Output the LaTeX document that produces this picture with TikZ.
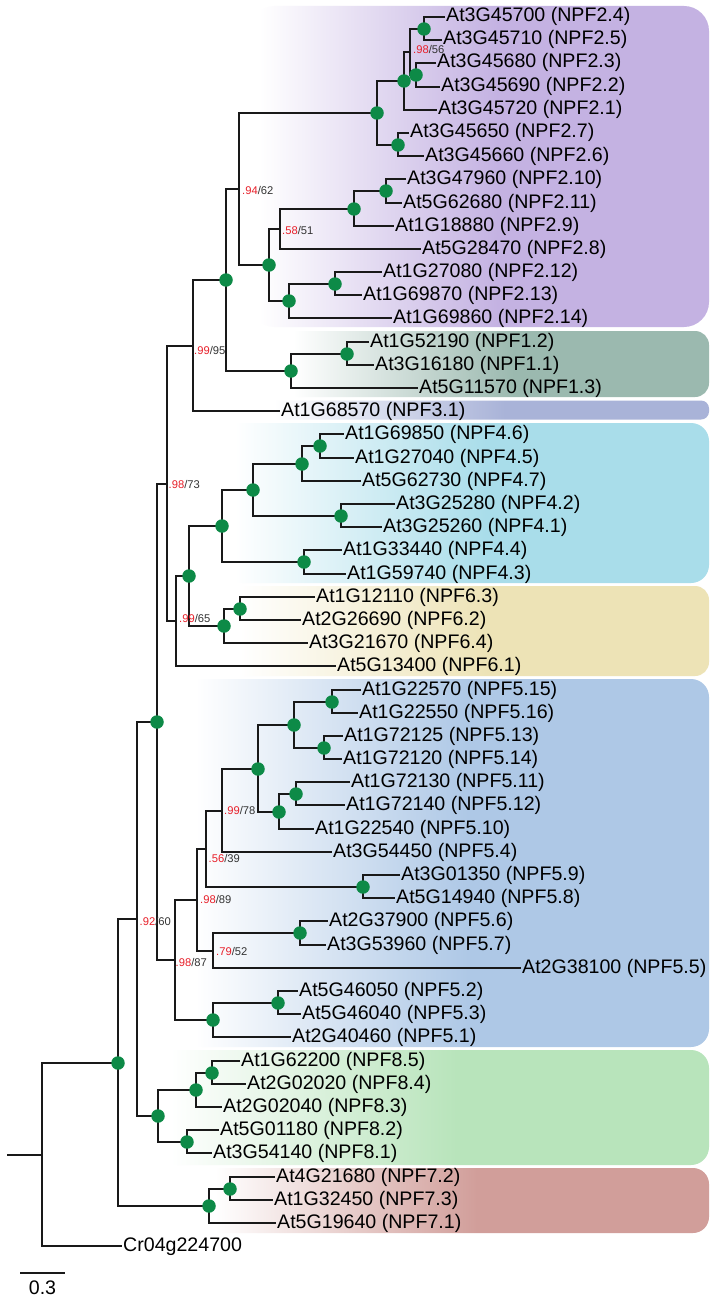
\documentclass[tikz,border=0pt]{standalone}
\usepackage{fontspec}
\setmainfont{Liberation Sans}
\definecolor{cTwo}{HTML}{C4B2E2}
\definecolor{cOne}{HTML}{9BB9AF}
\definecolor{cThree}{HTML}{A9B3D8}
\definecolor{cFour}{HTML}{A9DDEA}
\definecolor{cSix}{HTML}{EDE3B6}
\definecolor{cFive}{HTML}{AEC8E6}
\definecolor{cEight}{HTML}{B8E4BB}
\definecolor{cSeven}{HTML}{D19E9A}
\definecolor{dotgreen}{HTML}{0D8A47}
\definecolor{supred}{HTML}{E8202A}
\definecolor{supgray}{HTML}{333333}
\pgfdeclarehorizontalshading{shTwo}{100bp}{color(0bp)=(white); color(26bp)=(white); color(52bp)=(cTwo); color(100bp)=(cTwo)}
\pgfdeclarehorizontalshading{shOne}{100bp}{color(0bp)=(white); color(26bp)=(white); color(52bp)=(cOne); color(100bp)=(cOne)}
\pgfdeclarehorizontalshading{shThree}{100bp}{color(0bp)=(white); color(26bp)=(white); color(52bp)=(cThree); color(100bp)=(cThree)}
\pgfdeclarehorizontalshading{shFour}{100bp}{color(0bp)=(white); color(26bp)=(white); color(52bp)=(cFour); color(100bp)=(cFour)}
\pgfdeclarehorizontalshading{shSix}{100bp}{color(0bp)=(white); color(26bp)=(white); color(52bp)=(cSix); color(100bp)=(cSix)}
\pgfdeclarehorizontalshading{shFive}{100bp}{color(0bp)=(white); color(26bp)=(white); color(52bp)=(cFive); color(100bp)=(cFive)}
\pgfdeclarehorizontalshading{shEight}{100bp}{color(0bp)=(white); color(26bp)=(white); color(52bp)=(cEight); color(100bp)=(cEight)}
\pgfdeclarehorizontalshading{shSeven}{100bp}{color(0bp)=(white); color(26bp)=(white); color(52bp)=(cSeven); color(100bp)=(cSeven)}
\begin{document}
\begin{tikzpicture}[x=1pt,y=-1pt,
  br/.style={draw=black!90, line width=2pt},
  dotn/.style={circle, fill=dotgreen, inner sep=0pt, minimum size=13.5pt},
  leaf/.style={anchor=west, inner xsep=1pt, inner ysep=0pt, text height=14pt, text depth=4pt, font=\fontsize{19.6}{20}\selectfont},
  sup/.style={anchor=west, inner sep=0pt, text=supgray, font=\fontsize{11.2}{12}\selectfont},
  clade/.style={shading=#1}]
\useasboundingbox (0,0) rectangle (711,1303);
\fill[white] (0,0) rectangle (711,1303);
% clade backgrounds
\shade[clade=shTwo, rounded corners=25pt] (250,6) rectangle (709,327);
\shade[clade=shOne, rounded corners=14pt] (285,331) rectangle (709,397);
\shade[clade=shThree, rounded corners=8pt] (265,400.5) rectangle (709,419.5);
\shade[clade=shFour, rounded corners=18pt] (225,423) rectangle (709,583);
\shade[clade=shSix, rounded corners=14pt] (230,586) rectangle (709,676);
\shade[clade=shFive, rounded corners=18pt] (185,679) rectangle (709,1047);
\shade[clade=shEight, rounded corners=18pt] (160,1050) rectangle (709,1165);
\shade[clade=shSeven, rounded corners=16pt] (205,1168) rectangle (709,1233);
% leaves
\foreach \i/\x/\t in {
 1/446/At3G45700 (NPF2.4), 2/443/At3G45710 (NPF2.5), 3/437/At3G45680 (NPF2.3),
 4/441/At3G45690 (NPF2.2), 5/438/At3G45720 (NPF2.1), 6/410/At3G45650 (NPF2.7),
 7/425/At3G45660 (NPF2.6), 8/407/At3G47960 (NPF2.10), 9/403/At5G62680 (NPF2.11),
 10/395/At1G18880 (NPF2.9), 11/422/At5G28470 (NPF2.8), 12/383/At1G27080 (NPF2.12),
 13/363/At1G69870 (NPF2.13), 14/393/At1G69860 (NPF2.14), 15/370/At1G52190 (NPF1.2),
 16/375/At3G16180 (NPF1.1), 17/419/At5G11570 (NPF1.3), 18/281/At1G68570 (NPF3.1),
 19/345/At1G69850 (NPF4.6), 20/355/At1G27040 (NPF4.5), 21/362/At5G62730 (NPF4.7),
 22/396/At3G25280 (NPF4.2), 23/383/At3G25260 (NPF4.1), 24/343/At1G33440 (NPF4.4),
 25/347/At1G59740 (NPF4.3), 26/316/At1G12110 (NPF6.3), 27/302/At2G26690 (NPF6.2),
 28/309/At3G21670 (NPF6.4), 29/337/At5G13400 (NPF6.1), 30/362/At1G22570 (NPF5.15),
 31/359/At1G22550 (NPF5.16), 32/344/At1G72125 (NPF5.13), 33/343/At1G72120 (NPF5.14),
 34/351/At1G72130 (NPF5.11), 35/346/At1G72140 (NPF5.12), 36/315/At1G22540 (NPF5.10),
 37/333/At3G54450 (NPF5.4), 38/401/At3G01350 (NPF5.9), 39/396/At5G14940 (NPF5.8),
 40/329/At2G37900 (NPF5.6), 41/327/At3G53960 (NPF5.7), 42/522/At2G38100 (NPF5.5),
 43/299/At5G46050 (NPF5.2), 44/302/At5G46040 (NPF5.3), 45/292/At2G40460 (NPF5.1),
 46/241/At1G62200 (NPF8.5), 47/247/At2G02020 (NPF8.4), 48/223/At2G02040 (NPF8.3),
 49/220/At5G01180 (NPF8.2), 50/213/At3G54140 (NPF8.1), 51/276/At4G21680 (NPF7.2),
 52/274/At1G32450 (NPF7.3), 53/277/At5G19640 (NPF7.1), 54/123/Cr04g224700}{
  \coordinate (l\i) at ({\x-1},{round(17+(\i-1)*23.19)});
  \node[leaf] (t\i) at (l\i) {\t};
}
% internal nodes
\coordinate (n2a) at (424,29);
\coordinate (n2b) at (416,75);
\coordinate (n2c) at (410,52);
\coordinate (n2d) at (404,81);
\coordinate (n2e) at (398,145);
\coordinate (n2f) at (377,113);
\coordinate (n2g) at (386,191);
\coordinate (n2h) at (354,209);
\coordinate (n2i) at (280,229);
\coordinate (n2j) at (335,284);
\coordinate (n2k) at (289,301);
\coordinate (n2l) at (269,265);
\coordinate (n2) at (239,189);
\coordinate (n1a) at (347,354);
\coordinate (n1) at (291,371);
\coordinate (nG) at (226,280);
\coordinate (nF) at (193,346);
\coordinate (n4a) at (320,446);
\coordinate (n4b) at (302,464);
\coordinate (n4c) at (341,516);
\coordinate (n4d) at (253,490);
\coordinate (n4e) at (304,562);
\coordinate (n4) at (222,526);
\coordinate (n6a) at (240,609);
\coordinate (n6) at (224,626);
\coordinate (n46) at (189,576);
\coordinate (nH) at (176,621);
\coordinate (nE) at (167,484);
\coordinate (n5a) at (332,702);
\coordinate (n5b) at (324,748);
\coordinate (n5c) at (294,725);
\coordinate (n5d) at (296,794);
\coordinate (n5e) at (279,812);
\coordinate (n5f) at (258,769);
\coordinate (n5g) at (222,811);
\coordinate (n5h) at (363,887);
\coordinate (n5i) at (206,849);
\coordinate (n5j) at (300,933);
\coordinate (n5k) at (213,951);
\coordinate (n5l) at (197,900);
\coordinate (n5m) at (278,1003);
\coordinate (n5n) at (213,1020);
\coordinate (n5) at (175,960);
\coordinate (nD) at (157,722);
\coordinate (n8a) at (212,1073);
\coordinate (n8b) at (196,1090);
\coordinate (n8c) at (187,1142);
\coordinate (n8) at (158,1116);
\coordinate (nC) at (137,919);
\coordinate (n7a) at (230,1189);
\coordinate (n7) at (209,1206);
\coordinate (nB) at (118,1063);
\coordinate (nR) at (42,1155);
\coordinate (stub) at (7,1155);
% branches
\foreach \p/\a/\b in {n2a/l1/l2, n2b/l3/l4, n2c/n2a/n2b, n2d/n2c/l5, n2e/l6/l7,
  n2f/n2d/n2e, n2g/l8/l9, n2h/n2g/l10, n2i/n2h/l11, n2j/l12/l13, n2k/n2j/l14,
  n2l/n2i/n2k, n2/n2f/n2l, n1a/l15/l16, n1/n1a/l17, nG/n2/n1, nF/nG/l18,
  n4a/l19/l20, n4b/n4a/l21, n4c/l22/l23, n4d/n4b/n4c, n4e/l24/l25, n4/n4d/n4e,
  n6a/l26/l27, n6/n6a/l28, n46/n4/n6, nH/n46/l29, nE/nF/nH,
  n5a/l30/l31, n5b/l32/l33, n5c/n5a/n5b, n5d/l34/l35, n5e/n5d/l36, n5f/n5c/n5e,
  n5g/n5f/l37, n5h/l38/l39, n5i/n5g/n5h, n5j/l40/l41, n5k/n5j/l42, n5l/n5i/n5k,
  n5m/l43/l44, n5n/n5m/l45, n5/n5l/n5n, nD/nE/n5,
  n8a/l46/l47, n8b/n8a/l48, n8c/l49/l50, n8/n8b/n8c, nC/nD/n8,
  n7a/l51/l52, n7/n7a/l53, nB/nC/n7, nR/nB/l54}{
  \draw[br] (\a) -| (\p) |- (\b);
}
\draw[br] (stub) -- (nR);
% full-support dots
\foreach \n in {n2a,n2b,n2d,n2e,n2f,n2g,n2h,n2j,n2k,n2l,n1a,n1,nG,
  n4a,n4b,n4c,n4d,n4e,n4,n6a,n6,n46,
  n5a,n5b,n5c,n5d,n5e,n5f,n5h,n5j,n5m,n5n,nD,
  n8a,n8b,n8c,n8,n7a,n7,nB}{
  \node[dotn] (d\n) at (\n) {};
}
% support values
\node[sup] (s2c) at (413,49.5) {\textcolor{supred}{.98}/56};
\node[sup] (s2i) at (282,230) {\textcolor{supred}{.58}/51};
\node[sup] (s2) at (242,190) {\textcolor{supred}{.94}/62};
\node[sup] (sF) at (194,350) {\textcolor{supred}{.99}/95};
\node[sup] (sE) at (168.5,484) {\textcolor{supred}{.98}/73};
\node[sup] (sH) at (179,618) {\textcolor{supred}{.99}/65};
\node[sup] (s5g) at (224,810) {\textcolor{supred}{.99}/78};
\node[sup] (s5i) at (208.5,858) {\textcolor{supred}{.56}/39};
\node[sup] (s5l) at (200,899) {\textcolor{supred}{.98}/89};
\node[sup] (sC) at (139.5,921.5) {\textcolor{supred}{.92}/60};
\node[sup] (s5k) at (216,951) {\textcolor{supred}{.79}/52};
\node[sup] (s5) at (175.5,962) {\textcolor{supred}{.98}/87};
% scale bar
\coordinate (sb1) at (20,1273);
\coordinate (sb2) at (65,1273);
\draw[black!90, line width=1.5pt] (sb1) -- (sb2);
\node[font=\fontsize{19.6}{20}\selectfont, inner sep=0pt] (sbl) at (42.5,1288) {0.3};
\end{tikzpicture}
\end{document}
